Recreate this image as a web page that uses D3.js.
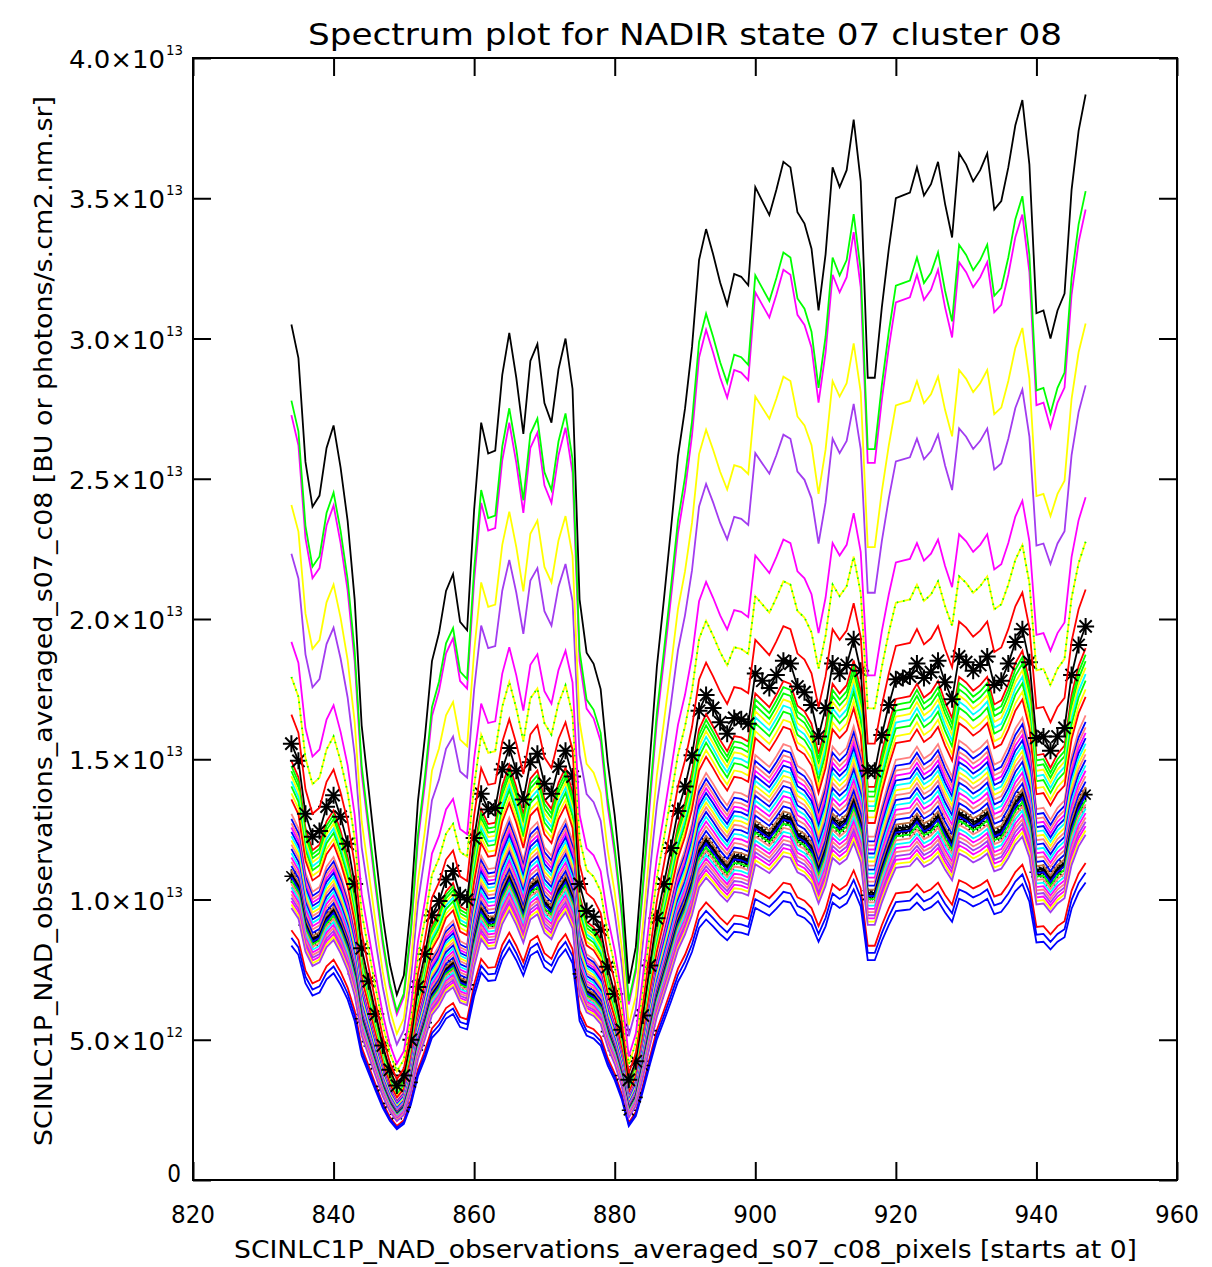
<!DOCTYPE html>
<html><head><meta charset="utf-8">
<script src="https://cdn.jsdelivr.net/npm/d3@7"></script>
<style>
body{margin:0;background:#fff}
text{font-family:"Liberation Sans Narrow","DejaVu Sans Condensed","Liberation Sans",sans-serif;fill:#000}
</style>
</head><body>
<svg id="c" width="1212" height="1267"></svg>
<script>
// ---------------- data ----------------
const firstPixel = 834;           // first detector pixel plotted
// brightest spectrum (black), in units of 1e13, pixels 834..947
const profile = [
 3.05,2.93,2.56,2.40,2.44,2.61,2.69,2.54,2.35,2.07,
 1.62,1.39,1.16,0.94,0.77,0.66,0.73,0.98,1.35,1.58,
 1.85,1.95,2.10,2.16,1.99,1.96,2.39,2.70,2.59,2.60,
 2.87,3.02,2.86,2.66,2.92,2.98,2.77,2.70,2.89,3.00,
 2.82,2.07,1.88,1.84,1.75,1.49,1.30,1.05,0.70,0.83,
 1.15,1.50,1.83,2.07,2.32,2.58,2.75,2.97,3.28,3.39,
 3.30,3.20,3.12,3.23,3.22,3.19,3.54,3.49,3.44,3.53,
 3.63,3.61,3.45,3.41,3.32,3.10,3.30,3.61,3.54,3.60,
 3.78,3.56,2.86,2.86,3.11,3.32,3.50,3.51,3.52,3.61,
 3.51,3.55,3.63,3.48,3.36,3.66,3.62,3.56,3.60,3.66,
 3.46,3.49,3.61,3.76,3.85,3.62,3.09,3.10,3.00,3.10,
 3.16,3.53,3.74,3.87
];
// every other spectrum: its brightness relative to the black one (read at both ends)
const bottomRatio = [0.292, 0.283, 0.274];
const bottomColor = ["#ff0000", "#0000ff", "#0000ff"];
const bandRatio = [0.490,0.484,0.478,0.472,0.466,0.460,0.452,0.445,
  0.428,0.422,0.417,0.412,0.407,0.402,0.397,0.392,0.387,0.382,0.377,0.372,
  0.367,0.362,0.358,0.354,0.350,0.346,0.342,0.338,0.334,0.330,0.326,0.322,0.318];
const bandColor = ["#ff0000","#00ff00","#00ff00","#ffff00","#00ffff","#00ff00","#ffff00","#ff0000",
  "#ff8080","#0000ff","#ff8080","#ff00ff","#0000ff","#00ffff","#ffff00","#ff8080","#0000ff","#00ffff",
  "#ff00ff","#ff8080","#0000ff","#c07040","#000000","#0000ff","#00ff00","#ff8080","#00ffff","#ff00ff",
  "#ff8080","#a23cf0","#ff00ff","#ffff00","#a23cf0"];
const starRatio = [0.355, 0.51];
const topRatio = [0.544, 0.588, 0.588, 0.629, 0.732, 0.789, 0.894, 0.911, 1.0];
const topColor = ["#ff0000","#ffff00","#00ff00","#ff00ff","#a23cf0","#ffff00","#ff00ff","#00ff00","#000000"];
const topDash  = [null, null, "1.5,5", null, null, null, null, null, null];

const xTicks = [820, 840, 860, 880, 900, 920, 940, 960];
const yTicks = [0, 0.5, 1.0, 1.5, 2.0, 2.5, 3.0, 3.5, 4.0];
const yTickMant = ["0","5.0×10","1.0×10","1.5×10","2.0×10","2.5×10","3.0×10","3.5×10","4.0×10"];
const yTickExp  = ["","12","13","13","13","13","13","13","13"];

const titleText = "Spectrum plot for NADIR state 07 cluster 08";
const xTitle = "SCINLC1P_NAD_observations_averaged_s07_c08_pixels [starts at 0]";
const yTitle = "SCINLC1P_NAD_observations_averaged_s07_c08 [BU or photons/s.cm2.nm.sr]";

// ---------------- drawing ----------------
const svg = d3.select("#c");
const L = 193, R = 1177, T = 58, B = 1180;
const x = d3.scaleLinear().domain([820, 960]).range([L, R]);
const y = d3.scaleLinear().domain([0, 4]).range([B, T]);

const pixels = profile.map((_, i) => firstPixel + i);
const spectrum = r => profile.map((v, i) => ({p: pixels[i], v: v * r}));
const line = d3.line().x(d => x(d.p)).y(d => y(d.v));

const g = svg.append("g");
const lw = 1.8;
function drawLine(r, color, dash) {
  const pth = g.append("path").datum(spectrum(r)).attr("d", line)
    .attr("fill", "none").attr("stroke", color).attr("stroke-width", lw)
    .attr("stroke-linejoin", "miter");
  if (dash) pth.attr("stroke-dasharray", dash);
}
function drawStars(r, arm, sw) {
  const a = arm, b = arm * 0.72;
  const starPath = `M${-a},0H${a}M0,${-a}V${a}M${-b},${-b}L${b},${b}M${-b},${b}L${b},${-b}`;
  drawLine(r, "#000", null);
  g.append("g").selectAll("path").data(spectrum(r)).join("path")
    .attr("transform", d => `translate(${x(d.p)},${y(d.v)})`)
    .attr("d", starPath).attr("stroke", "#000").attr("stroke-width", sw).attr("fill", "none");
}

bottomRatio.forEach((r, i) => drawLine(r, bottomColor[i]));
drawStars(starRatio[0], 7, 1.6);
bandRatio.forEach((r, i) => drawLine(r, bandColor[i]));
drawStars(starRatio[1], 8.5, 2);
topRatio.forEach((r, i) => drawLine(r, topColor[i], topDash[i]));

// axes (ticks inward on all four sides)
const tk = 18;
const axB = svg.append("g").attr("transform", `translate(0,${B})`).call(d3.axisBottom(x).tickValues(xTicks).tickSize(-tk).tickFormat(""));
const axT = svg.append("g").attr("transform", `translate(0,${T})`).call(d3.axisTop(x).tickValues(xTicks).tickSize(-tk).tickFormat(""));
const axL = svg.append("g").attr("transform", `translate(${L},0)`).call(d3.axisLeft(y).tickValues(yTicks).tickSize(-tk).tickFormat(""));
const axR = svg.append("g").attr("transform", `translate(${R},0)`).call(d3.axisRight(y).tickValues(yTicks).tickSize(-tk).tickFormat(""));
[axB, axT, axL, axR].forEach(a => {
  a.select(".domain").remove();
  a.selectAll("line").attr("stroke", "#000").attr("stroke-width", 2);
});
svg.append("rect").attr("x", L).attr("y", T).attr("width", R - L).attr("height", B - T)
  .attr("fill", "none").attr("stroke", "#000").attr("stroke-width", 2);

// x tick labels
svg.append("g").selectAll("text").data(xTicks).join("text")
  .attr("x", d => x(d)).attr("y", 1223).attr("text-anchor", "middle")
  .attr("font-size", 24).attr("textLength", 44).attr("lengthAdjust", "spacingAndGlyphs")
  .text(d => d);

// y tick labels
yTicks.forEach((v, i) => {
  if (yTickExp[i] === "") {
    svg.append("text").attr("x", 181).attr("y", y(v) + 2).attr("text-anchor", "end")
      .attr("font-size", 24).text(yTickMant[i]);
  } else {
    svg.append("text").attr("x", 165).attr("y", y(v) + 10).attr("text-anchor", "end")
      .attr("font-size", 24).attr("textLength", 96).attr("lengthAdjust", "spacingAndGlyphs")
      .text(yTickMant[i]);
    svg.append("text").attr("x", 166).attr("y", y(v) - 3).attr("text-anchor", "start")
      .attr("font-size", 14).attr("textLength", 17).attr("lengthAdjust", "spacingAndGlyphs")
      .text(yTickExp[i]);
  }
});

// titles
svg.append("text").attr("x", 308).attr("y", 45).attr("font-size", 31)
  .attr("textLength", 754).attr("lengthAdjust", "spacingAndGlyphs").text(titleText);
svg.append("text").attr("x", 234).attr("y", 1258).attr("font-size", 25)
  .attr("textLength", 903).attr("lengthAdjust", "spacingAndGlyphs").text(xTitle);
svg.append("text").attr("transform", "translate(52,1146) rotate(-90)").attr("font-size", 25)
  .attr("textLength", 1050).attr("lengthAdjust", "spacingAndGlyphs").text(yTitle);
</script>
</body></html>
